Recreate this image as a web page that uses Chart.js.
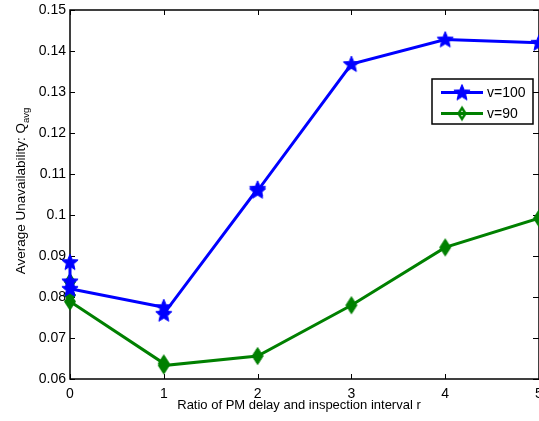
<!DOCTYPE html>
<html>
<head>
<meta charset="utf-8">
<title>Average Unavailability vs r</title>
<script src="https://cdn.jsdelivr.net/npm/chart.js@4/dist/chart.umd.min.js"></script>
<style>
    html, body { margin: 0; padding: 0; background: #ffffff; overflow: hidden; }
    canvas { display: block; }
</style>
</head>
<body>
<canvas id="qChart" width="539" height="421"></canvas>
<script>
// ratio r (several runs stacked at r = 0 and r = 1)
const rValues = [0, 0, 0, 1, 1, 2, 2, 3, 4, 5];
const qV100 = [0.0885, 0.0838, 0.0820, 0.0775, 0.0759, 0.1064, 0.1059, 0.1368, 0.1428, 0.1420];
const rValues90 = [0, 0, 0, 1, 1, 2, 3, 4, 5];
const qV90 = [0.0837, 0.0805, 0.0789, 0.0638, 0.0633, 0.0656, 0.0780, 0.0921, 0.0992];
const xTicks = [0, 1, 2, 3, 4, 5];
const yTicks = [0.06, 0.07, 0.08, 0.09, 0.1, 0.11, 0.12, 0.13, 0.14, 0.15];
const seriesNames = ["v=100", "v=90"];

const FONT = "'Liberation Sans', Arial, Helvetica, sans-serif";
const BLUE = "#0000ff";
const GREEN = "#008000";

function makeStar(color) {
    const c = document.createElement("canvas");
    c.width = 22; c.height = 22;
    const g = c.getContext("2d");
    const cx = 11, cy = 11.5, ro = 8.5, ri = 3.8;
    g.beginPath();
    for (let i = 0; i < 10; i++) {
        const r = i % 2 === 0 ? ro : ri;
        const a = -Math.PI / 2 + i * Math.PI / 5;
        const px = cx + r * Math.cos(a), py = cy + r * Math.sin(a);
        if (i === 0) g.moveTo(px, py); else g.lineTo(px, py);
    }
    g.closePath();
    g.fillStyle = color;
    g.fill();
    g.strokeStyle = color;
    g.lineWidth = 1;
    g.stroke();
    return c;
}

function makeDiamond(color, hw, hh, filled) {
    const c = document.createElement("canvas");
    c.width = 16; c.height = 22;
    const g = c.getContext("2d");
    g.beginPath();
    g.moveTo(8, 11 - hh);
    g.lineTo(8 + hw, 11);
    g.lineTo(8, 11 + hh);
    g.lineTo(8 - hw, 11);
    g.closePath();
    if (filled) {
        g.fillStyle = color;
        g.fill();
        g.lineWidth = 1;
    } else {
        g.lineWidth = 2.5;
    }
    g.strokeStyle = color;
    g.stroke();
    return c;
}

const starImg = makeStar(BLUE);
const diamondImg = makeDiamond(GREEN, 5.5, 8.5, true);
const diamondLegendImg = makeDiamond(GREEN, 3.5, 5.5, false);

function toPoints(xs, ys) {
    return ys.map((y, i) => ({ x: xs[i], y: y }));
}

// axes box with inward ticks, drawn under the data
const framePlugin = {
    id: "frame",
    beforeDatasetsDraw(chart) {
        const { ctx, chartArea: a, scales } = chart;
        ctx.save();
        ctx.strokeStyle = "#000000";
        ctx.lineWidth = 1.5;
        ctx.strokeRect(a.left, a.top, a.right - a.left, a.bottom - a.top);
        ctx.lineWidth = 1;
        ctx.beginPath();
        xTicks.forEach(v => {
            const x = Math.round(scales.x.getPixelForValue(v)) + 0.5;
            ctx.moveTo(x, a.bottom); ctx.lineTo(x, a.bottom - 5);
            ctx.moveTo(x, a.top); ctx.lineTo(x, a.top + 5);
        });
        yTicks.forEach(v => {
            const y = Math.round(scales.y.getPixelForValue(v)) + 0.5;
            ctx.moveTo(a.left, y); ctx.lineTo(a.left + 5, y);
            ctx.moveTo(a.right, y); ctx.lineTo(a.right - 6, y);
        });
        ctx.stroke();
        ctx.restore();
    },
    afterDraw(chart) {
        const ctx = chart.ctx;
        ctx.save();
        ctx.fillStyle = "#000000";
        // x title
        ctx.font = "13px " + FONT;
        ctx.textAlign = "center";
        ctx.textBaseline = "middle";
        ctx.fillText("Ratio of PM delay and inspection interval r", 299, 405);
        // y title with subscript
        ctx.translate(21.5, 191);
        ctx.rotate(-Math.PI / 2);
        const main = "Average Unavailability: Q";
        ctx.font = "13.5px " + FONT;
        const wMain = ctx.measureText(main).width;
        ctx.font = "9.5px " + FONT;
        const wSub = ctx.measureText("avg").width;
        const start = -(wMain + wSub) / 2;
        ctx.textAlign = "left";
        ctx.font = "13.5px " + FONT;
        ctx.fillText(main, start, 0);
        ctx.font = "9.5px " + FONT;
        ctx.fillText("avg", start + wMain, 5);
        ctx.restore();

        // legend box
        const lx = 432, ly = 79, lw = 101, lh = 45;
        ctx.save();
        ctx.fillStyle = "#ffffff";
        ctx.fillRect(lx, ly, lw, lh);
        ctx.strokeStyle = "#000000";
        ctx.lineWidth = 1.5;
        ctx.strokeRect(lx, ly, lw, lh);
        const rows = [
            { name: seriesNames[0], color: BLUE, img: starImg, y: 92.5 },
            { name: seriesNames[1], color: GREEN, img: diamondLegendImg, y: 113.5 }
        ];
        rows.forEach(row => {
            ctx.strokeStyle = row.color;
            ctx.lineWidth = 3;
            ctx.beginPath();
            ctx.moveTo(441, row.y);
            ctx.lineTo(483, row.y);
            ctx.stroke();
            ctx.drawImage(row.img, 462 - row.img.width / 2, row.y - row.img.height / 2);
            ctx.fillStyle = "#000000";
            ctx.font = "14px " + FONT;
            ctx.textAlign = "left";
            ctx.textBaseline = "middle";
            ctx.fillText(row.name, 487, row.y + 0.5);
        });
        ctx.restore();
    }
};

const qChart = new Chart(document.getElementById("qChart").getContext("2d"), {
    type: "line",
    data: {
        datasets: [
            {
                label: seriesNames[0],
                data: toPoints(rValues, qV100),
                borderColor: BLUE,
                backgroundColor: BLUE,
                borderWidth: 3,
                pointStyle: starImg,
                tension: 0,
                clip: false
            },
            {
                label: seriesNames[1],
                data: toPoints(rValues90, qV90),
                borderColor: GREEN,
                backgroundColor: GREEN,
                borderWidth: 3,
                pointStyle: diamondImg,
                tension: 0,
                clip: false
            }
        ]
    },
    options: {
        responsive: false,
        animation: false,
        events: [],
        layout: { autoPadding: false, padding: { left: 0, top: 10, right: 0, bottom: 0 } },
        plugins: {
            legend: { display: false },
            tooltip: { enabled: false }
        },
        scales: {
            x: {
                type: "linear",
                min: 0,
                max: 5,
                afterBuildTicks: scale => { scale.ticks = xTicks.map(v => ({ value: v })); },
                afterFit: scale => {
                    scale.height = 42;
                    scale.paddingLeft = 0;
                    scale.paddingRight = 0;
                },
                grid: { display: false, drawTicks: false },
                border: { display: false },
                ticks: {
                    color: "#000000",
                    font: { family: FONT, size: 14 },
                    padding: 7,
                    maxRotation: 0,
                    autoSkip: false
                }
            },
            y: {
                type: "linear",
                min: 0.06,
                max: 0.15,
                afterBuildTicks: scale => { scale.ticks = yTicks.map(v => ({ value: v })); },
                afterFit: scale => {
                    scale.width = 70;
                    scale.paddingTop = 0;
                    scale.paddingBottom = 0;
                },
                grid: { display: false, drawTicks: false },
                border: { display: false },
                ticks: {
                    color: "#000000",
                    font: { family: FONT, size: 14 },
                    padding: 4,
                    autoSkip: false,
                    callback: v => String(Number(v.toFixed(2)))
                }
            }
        }
    },
    plugins: [framePlugin]
});
</script>
</body>
</html>
